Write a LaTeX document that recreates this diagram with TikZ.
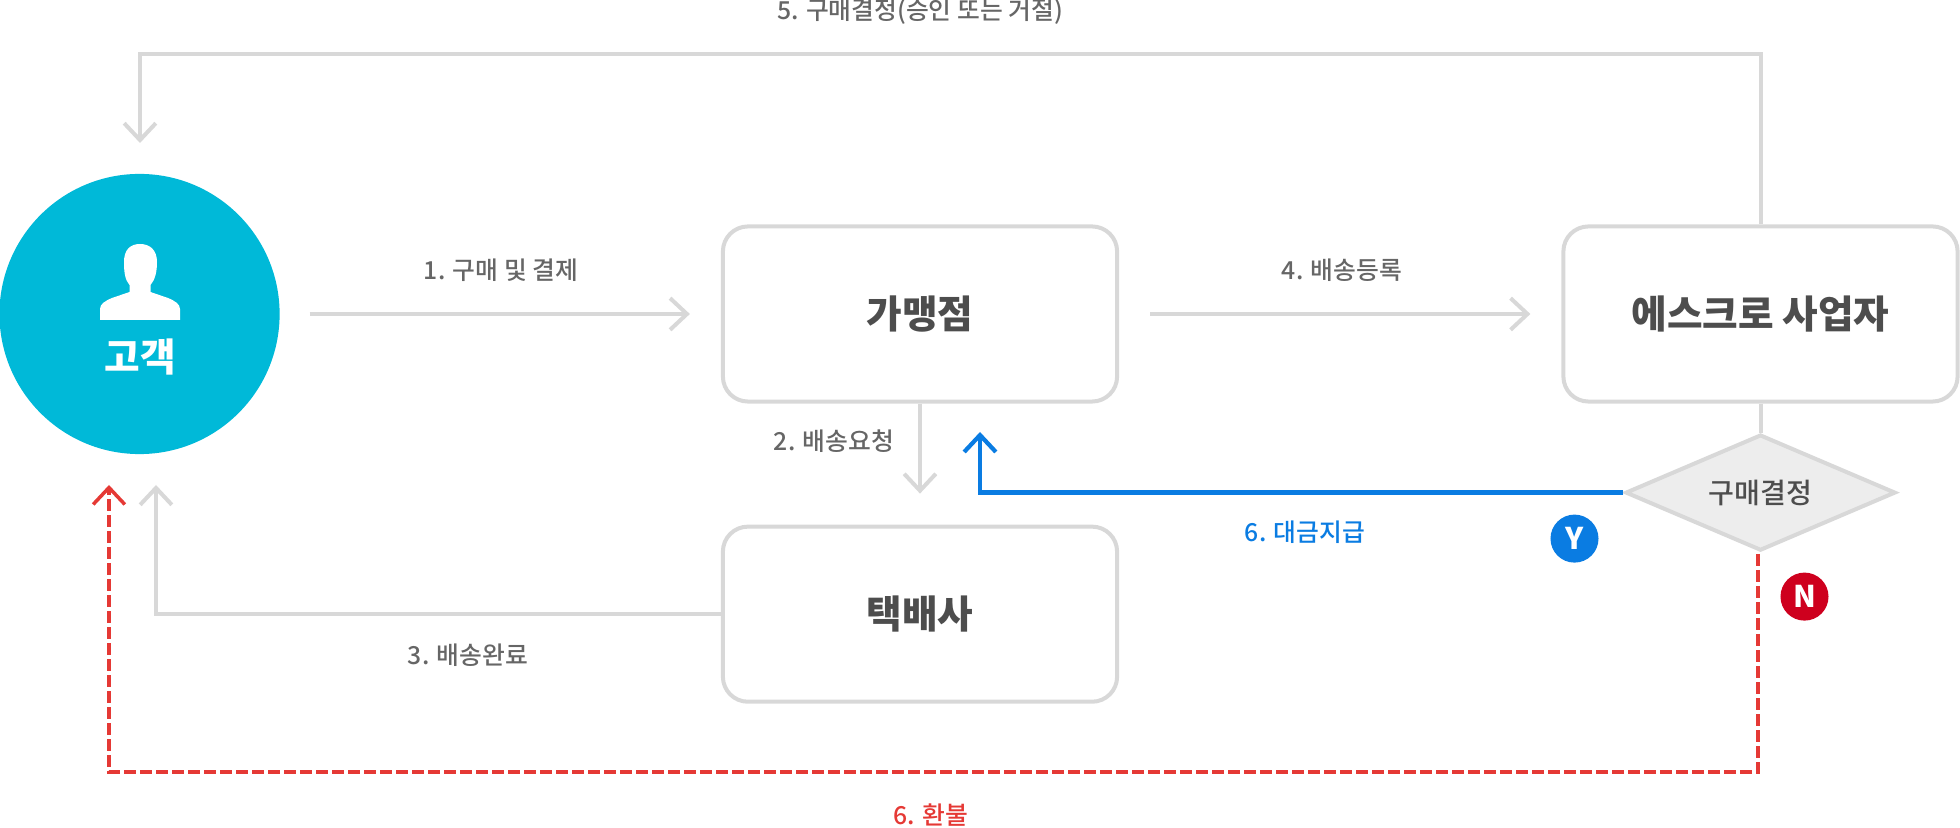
\documentclass[tikz,border=0pt]{standalone}
\usepackage{fontspec}
\setmainfont{Noto Sans CJK KR}
\newfontface\medfont{Noto Sans CJK KR Medium}
\usetikzlibrary{shapes,positioning,calc,arrows.meta}

\definecolor{linegray}{HTML}{D8D8D8}
\definecolor{textgray}{HTML}{666666}
\definecolor{darkgray}{HTML}{4D4D4D}
\definecolor{custcyan}{HTML}{00B9D8}
\definecolor{payblue}{HTML}{0A7CE2}
\definecolor{refundred}{HTML}{E53935}
\definecolor{noredcol}{HTML}{CE001E}

\tikzset{
    barb/.style={-{Straight Barb[length=4.8pt,width=9pt]}},
    flow/.style={draw=linegray, line width=1.14pt, barb},
    plain/.style={draw=linegray, line width=1.14pt},
    paid/.style={draw=payblue, line width=1.2pt, barb},
    refund/.style={draw=refundred, line width=1pt, dash pattern=on 3.41pt off 1.14pt, barb},
    box/.style={draw=linegray, line width=1.14pt, rounded corners=.25cm, fill=white,
        minimum width=3.94cm, minimum height=1.75cm, text=darkgray,
        font=\fontsize{11}{13}\selectfont\bfseries},
    caption/.style={text=textgray, inner sep=0pt, font=\fontsize{7.05}{8}\selectfont\medfont},
    badge/.style={circle, minimum size=.48cm, inner sep=0pt, text=white,
        font=\fontsize{8.5}{10}\selectfont\bfseries}
}

\begin{document}
\begin{tikzpicture}[x=.01cm, y=-.01cm]

        \def\d{1.21cm}

        \useasboundingbox (0, 0) rectangle (1960, 828);

        % The three boxes hang off the merchant, the rest off them
        \begin{scope}
            \node (Merchant) [box] at (920, 314) {가맹점};
            \node (Courier) [box, below=\d of Merchant] {택배사};
            \node (Escrow) [box, right=4.42cm of Merchant] {에스크로 사업자};
            \node (Customer) [circle, fill=custcyan, minimum size=2.8cm, inner sep=0pt,
                outer sep=0pt, left=4.41cm of Merchant] {};
            \node (CustName) [text=white, inner sep=0pt, font=\fontsize{11}{13}\selectfont\bfseries]
                at (140, 357) {고객};
            \node (Decision) [diamond, aspect=2.3, draw=linegray, line width=1.14pt, fill=black!7,
                minimum width=2.7cm, minimum height=1.16cm, inner sep=0pt, text=darkgray,
                font=\fontsize{8}{10}\selectfont\medfont, below=.29cm of Escrow] {구매결정};
            \node (BadgeY) [badge, fill=payblue] at ($(Decision)+(-186, 46)$) {Y};
            \node (BadgeN) [badge, fill=noredcol] at ($(Decision)+(44, 104)$) {N};
        \end{scope}

        % Person icon inside the customer circle
        \fill[white] (100, 320) -- (100, 309) .. controls (100, 304) and (105, 301) .. (112, 298)
            -- (129.5, 292) -- (129.5, 285) .. controls (125, 280) and (124, 272) .. (124, 262)
            .. controls (124, 250) and (130, 244) .. (140, 244)
            .. controls (150, 244) and (157, 250) .. (157, 262)
            .. controls (157, 272) and (155, 280) .. (150.5, 285) -- (150.5, 292) -- (168, 298)
            .. controls (175, 301) and (180, 304) .. (180, 309) -- (180, 320) -- cycle;

        % Free ends of the connectors
        \coordinate (CustOut) at ($(Customer.east)+(30, 0)$);
        \coordinate (MerchIn) at ($(Merchant.west)+(-31, 0)$);
        \coordinate (MerchOut) at ($(Merchant.east)+(31, 0)$);
        \coordinate (EscIn) at ($(Escrow.west)+(-31, 0)$);
        \coordinate (CourIn) at ($(Courier.north)+(0, -31)$);
        \coordinate (TopBend) at (140, 54);
        \coordinate (TopEnd) at (140, 143);
        \coordinate (BackEnd) at (156, 485);
        \coordinate (PayEnd) at (980, 432);
        \coordinate (RefundStart) at (1758, 554);
        \coordinate (RefundEnd) at (109, 485);
        \coordinate (RefundBend) at (1758, 772);

        \begin{scope}
            \draw[flow] (CustOut) -- (MerchIn);
            \draw[flow] (MerchOut) -- (EscIn);
            \draw[flow] (Merchant.south) -- (CourIn);
            \draw[flow] (Courier.west) -| (BackEnd);
            \draw[flow] (Escrow.north) |- (TopBend) -- (TopEnd);
            \draw[plain] (Escrow.south) -- (Decision.north);
            \draw[paid] (Decision.west) -| (PayEnd);
            \draw[refund] (RefundStart) -- (RefundBend) -| (RefundEnd);
        \end{scope}

        \node (LabelFive) [caption] at (920, 12) {5. 구매결정(승인 또는 거절)};
        \node (LabelOne) [caption] at (501, 270) {1. 구매 및 결제};
        \node (LabelFour) [caption] at (1342, 270) {4. 배송등록};
        \node (LabelTwo) [caption] at (834, 441) {2. 배송요청};
        \node (LabelThree) [caption] at (468, 655) {3. 배송완료};
        \node (LabelPay) [caption, text=payblue] at (1305, 532) {6. 대금지급};
        \node (LabelRefund) [caption, text=refundred] at (931, 815) {6. 환불};

\end{tikzpicture}
\end{document}
